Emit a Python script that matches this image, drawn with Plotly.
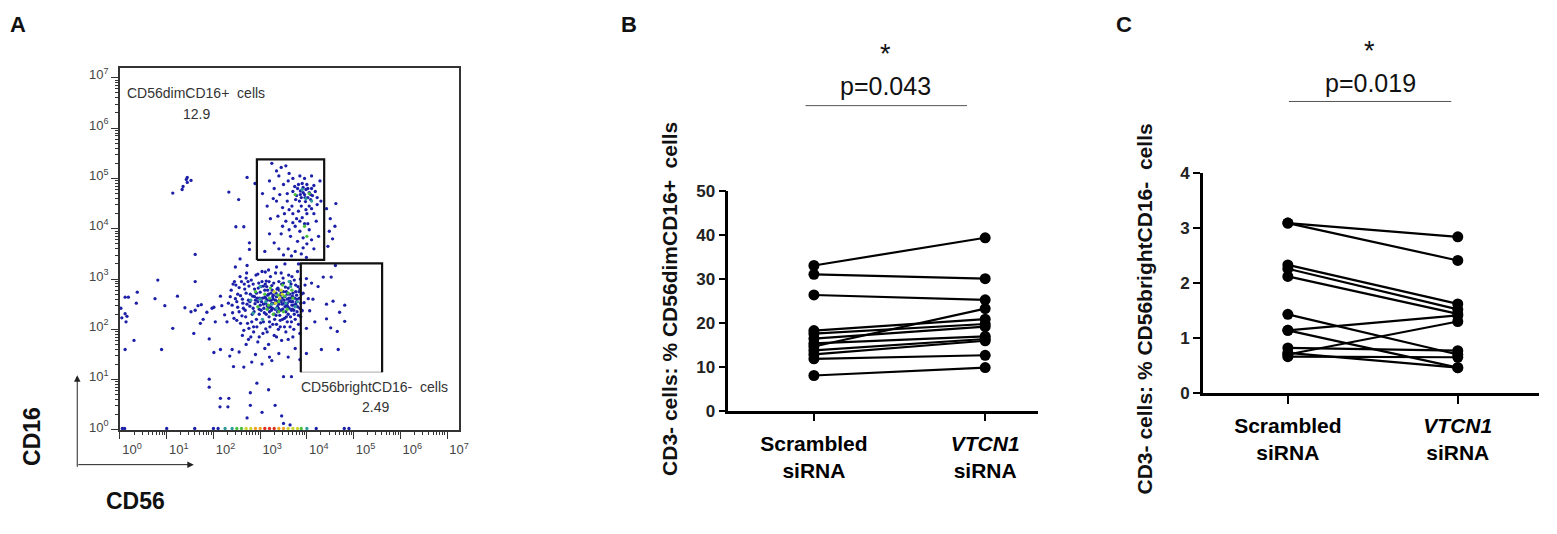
import numpy as np
import plotly.graph_objects as go

# the page adds an 8 px margin round the figure, so the figure is drawn 16 px smaller
# and every position below is given in pixels of the full 1557 x 534 picture
PAGE_W, PAGE_H, PAD = 1557, 534, 8
W, H = PAGE_W - 2 * PAD, PAGE_H - 2 * PAD

# PANEL A DATA --------------------------------------------------------------
# log10(CD56), log10(CD16) of the events

core_cells = [
    (2.32, 2.52), (2.38, 2.78), (2.41, 2.33), (2.45, 2.95), (2.47, 2.61), (2.50, 2.18), (2.52, 2.44), (2.55, 2.83),
    (2.57, 3.05), (2.58, 2.67), (2.61, 2.27), (2.63, 2.52), (2.65, 1.98), (2.66, 2.90), (2.68, 2.38), (2.70, 2.72),
    (2.71, 3.12), (2.73, 2.12), (2.75, 2.58), (2.76, 2.86), (2.78, 2.46), (2.80, 1.85), (2.81, 2.98), (2.83, 2.30),
    (2.84, 2.66), (2.86, 2.05), (2.88, 2.80), (2.89, 2.51), (2.91, 3.08), (2.92, 2.20), (2.94, 2.62), (2.95, 1.75),
    (2.97, 2.92), (2.98, 2.40), (3.00, 2.74), (3.01, 2.13), (3.03, 2.55), (3.04, 3.15), (3.06, 1.92), (3.07, 2.86),
    (3.09, 2.33), (3.10, 2.64), (3.12, 2.01), (3.13, 2.96), (3.15, 2.47), (3.16, 2.78), (3.18, 1.70), (3.19, 2.25),
    (3.21, 2.58), (3.22, 3.05), (3.24, 2.38), (3.25, 2.87), (3.27, 2.10), (3.28, 2.68), (3.30, 1.88), (3.31, 2.52),
    (3.33, 3.12), (3.34, 2.28), (3.36, 2.80), (3.37, 2.45), (3.39, 2.00), (3.40, 2.95), (3.42, 2.60), (3.43, 2.18),
    (3.45, 2.72), (3.46, 1.78), (3.48, 2.40), (3.49, 3.02), (3.51, 2.58), (3.52, 2.22), (3.54, 2.84), (3.55, 1.95),
    (3.57, 2.48), (3.58, 2.70), (3.60, 2.30), (3.61, 3.08), (3.63, 2.56), (3.64, 2.05), (3.66, 2.90), (3.67, 2.38),
    (3.69, 2.66), (3.70, 1.85), (3.72, 2.48), (3.73, 2.98), (3.75, 2.20), (3.76, 2.75), (3.78, 2.55), (3.79, 2.35),
    (3.81, 2.85), (3.82, 2.10), (3.84, 2.62), (3.85, 2.42), (3.86, 3.00), (3.87, 2.25), (3.88, 2.70),
    (3.05, 2.62), (3.12, 2.52), (3.18, 2.70), (3.22, 2.45), (3.28, 2.60), (3.32, 2.40), (3.35, 2.65), (3.40, 2.50),
    (3.44, 2.38), (3.47, 2.62), (3.50, 2.75), (3.53, 2.45), (3.58, 2.60), (3.62, 2.42), (3.66, 2.55), (3.70, 2.72),
    (3.74, 2.62), (3.08, 2.42), (3.14, 2.85), (3.20, 2.35), (3.26, 2.78), (3.30, 2.30), (3.38, 2.82), (3.42, 2.28),
    (3.46, 2.90), (3.55, 2.35), (3.60, 2.82), (3.65, 2.25), (3.72, 2.38), (3.78, 2.68), (2.95, 2.55), (2.98, 2.30),
    (3.02, 2.85), (2.88, 2.65), (2.85, 2.42), (2.92, 2.72), (3.00, 2.48), (3.15, 2.58), (3.25, 2.52), (3.36, 2.55),
    (3.52, 2.52), (3.68, 2.48), (3.80, 2.45), (3.83, 2.75), (3.10, 2.78), (3.48, 2.20), (3.58, 2.15), (3.20, 2.15),
    (3.35, 2.10), (2.78, 2.55),
    (2.36, 2.65), (2.40, 2.48), (2.44, 2.22), (2.48, 2.88), (2.52, 2.70), (2.55, 2.35), (2.58, 2.12), (2.60, 2.95),
    (2.62, 2.60), (2.64, 2.42), (2.67, 2.80), (2.69, 2.25), (2.72, 2.50), (2.74, 2.95), (2.76, 2.02), (2.79, 2.70),
    (2.82, 2.15), (2.85, 2.90), (2.87, 2.35), (2.90, 2.58), (2.93, 2.05), (2.96, 2.82), (2.99, 2.62), (3.02, 2.38),
    (3.04, 2.95), (3.07, 2.15), (3.11, 2.90), (3.13, 2.30), (3.16, 2.68), (3.19, 2.95), (3.21, 2.05), (3.23, 2.72),
    (3.26, 2.42), (3.29, 2.92), (3.31, 2.20), (3.34, 2.72), (3.37, 2.35), (3.41, 2.78), (3.43, 2.05), (3.47, 2.50),
    (3.50, 2.92), (3.53, 2.65), (3.56, 2.25), (3.59, 2.45), (3.62, 2.62), (3.64, 2.95), (3.67, 2.15), (3.70, 2.55),
    (3.73, 2.30), (3.76, 2.88), (3.79, 2.60), (3.82, 2.28), (3.85, 2.80), (3.87, 2.52), (3.89, 2.38), (3.07, 2.50),
    (3.17, 2.42), (3.27, 2.65), (3.33, 2.58), (3.39, 2.42), (3.45, 2.55), (3.56, 2.75), (3.63, 2.70), (3.69, 2.40),
    (3.76, 2.50), (3.12, 2.62), (3.23, 2.58), (3.44, 2.68), (3.58, 2.52), (3.66, 2.62), (2.62, 1.88), (2.75, 1.80),
    (2.98, 1.85), (3.15, 1.95), (3.35, 1.85), (3.52, 2.05), (3.72, 2.00), (3.85, 1.92), (2.86, 1.95), (3.60, 1.80),
    (2.70, 3.02), (2.95, 3.10), (3.18, 3.18), (3.45, 3.12), (3.68, 3.05), (3.80, 3.15), (2.50, 2.55), (2.42, 2.90),
]

dim_cells = [
    (3.80, 4.80), (3.86, 4.75), (3.92, 4.82), (3.98, 4.78), (4.05, 4.72), (4.10, 4.80), (3.95, 4.68), (4.02, 4.62),
    (3.88, 4.62), (3.78, 4.66), (4.08, 4.58), (3.70, 4.74), (3.84, 4.55), (4.12, 4.66), (3.97, 4.54), (4.18, 4.74),
    (3.74, 4.84), (4.00, 4.88), (3.90, 4.90), (4.15, 4.86), (3.25, 5.30), (3.45, 5.22), (3.55, 5.25), (3.62, 5.10),
    (3.40, 5.05), (3.20, 4.95), (3.30, 4.80), (3.50, 4.88), (3.58, 4.70), (3.35, 4.55), (3.15, 4.45), (3.48, 4.42),
    (3.62, 4.38), (3.70, 4.30), (3.82, 4.35), (3.90, 4.22), (4.00, 4.30), (4.10, 4.40), (4.22, 4.48), (4.30, 4.55),
    (3.55, 4.15), (3.75, 4.05), (3.85, 3.95), (3.95, 4.10), (4.05, 3.98), (3.65, 3.85), (3.80, 3.75), (3.92, 3.82),
    (4.00, 3.70), (3.45, 3.90), (3.30, 3.72), (3.60, 3.60), (3.75, 3.55), (3.88, 3.50), (4.15, 3.60), (4.25, 3.85),
    (3.10, 3.55), (3.50, 3.48), (4.20, 4.15), (4.28, 4.95), (4.10, 5.05), (3.85, 5.05), (3.70, 5.00), (3.22, 4.20),
    (3.05, 4.70), (3.38, 4.25), (4.42, 4.40), (4.50, 4.20), (4.48, 3.95), (4.55, 3.80), (4.60, 4.05), (4.45, 3.65),
    (4.62, 4.50), (2.33, 4.73), (2.54, 4.58), (2.72, 5.02), (2.89, 4.90), (2.65, 4.04), (2.48, 4.04), (2.77, 3.72),
    (2.77, 3.59),
    (3.82, 4.88), (3.92, 4.72), (4.02, 4.80), (3.86, 4.68), (3.96, 4.62), (4.08, 4.68), (3.76, 4.58), (3.68, 4.45),
    (3.88, 4.45), (4.05, 4.45), (3.58, 4.55), (3.42, 4.68), (3.28, 4.60), (3.52, 4.30), (3.78, 4.20), (3.98, 4.38),
    (4.15, 4.30), (3.70, 4.12), (3.62, 3.98), (3.92, 3.62), (3.40, 3.60), (4.10, 3.78), (3.95, 5.00), (3.60, 4.95),
    (3.35, 5.15), (4.22, 4.62), (4.02, 4.10), (3.85, 4.15), (3.48, 4.05), (3.20, 3.90),
]

scattered_cells = [
    (1.44, 5.02), (1.42, 4.98), (1.44, 4.92), (1.35, 4.84), (1.33, 4.78), (1.52, 4.96), (1.13, 4.71), (1.61, 3.49),
    (1.61, 2.95), (0.81, 2.98), (0.75, 2.61), (1.23, 2.66), (0.37, 2.74), (0.18, 2.64), (0.11, 2.64), (0.35, 2.52),
    (0.02, 2.42), (0.11, 2.31), (0.15, 2.26), (0.13, 2.15), (0.04, 2.23), (0.96, 2.47), (1.39, 2.43), (1.52, 2.35),
    (1.61, 2.38), (1.67, 2.47), (1.74, 2.49), (1.86, 2.34), (1.78, 2.20), (1.72, 2.12), (1.97, 2.42), (2.01, 2.44),
    (2.04, 2.15), (2.15, 2.66), (2.18, 2.47), (2.24, 2.29), (2.29, 2.15), (1.13, 2.02), (1.58, 1.92), (1.91, 1.81),
    (0.30, 1.78), (0.11, 1.60), (0.89, 1.60), (2.01, 1.54), (2.15, 1.60), (2.35, 1.47), (1.91, 0.85), (2.14, 0.46),
    (2.31, 0.46), (2.57, 3.40), (2.72, 3.27), (3.35, 3.24), (3.53, 3.30), (3.82, 3.30), (3.99, 3.43), (3.11, 3.14),
    (3.67, 3.46), (2.47, 3.24),
]

tail_cells = [
    (2.43, 1.26), (2.65, 1.25), (2.82, 1.35), (3.04, 1.31), (3.25, 1.38), (3.50, 1.06), (3.67, 1.06), (1.91, 1.01),
    (2.93, 0.93), (2.79, 0.74), (2.15, 0.63), (2.33, 0.63), (3.32, 0.49), (3.04, 0.35), (2.72, 0.24), (3.50, 0.13),
    (3.64, 0.10), (2.79, 0.49), (3.46, 0.28), (3.18, 0.80), (2.55, 1.55), (2.90, 1.50), (3.10, 1.62), (3.40, 1.52),
    (3.60, 1.45), (2.70, 1.70), (3.75, 1.62), (2.40, 1.60), (3.20, 1.45), (3.85, 1.40),
]

bright_cells = [
    (3.99, 3.01), (4.10, 2.92), (4.35, 3.04), (4.52, 3.04), (4.24, 2.85), (4.56, 2.56), (4.81, 2.48), (4.70, 2.34),
    (4.42, 2.50), (4.03, 2.61), (4.13, 2.60), (4.06, 2.37), (4.17, 2.15), (4.51, 2.03), (4.65, 1.96), (4.81, 2.16),
    (4.31, 1.60), (4.67, 1.60), (3.99, 1.52), (4.61, 3.27), (4.42, 2.21), (3.92, 2.72), (3.94, 2.53), (3.90, 2.37),
    (3.96, 2.88), (3.99, 2.02),
]

# denser events drawn in the hotter pseudo-colours: (log CD56, log CD16, density level)
hot_cells = [
    (3.10, 2.70, 2), (3.20, 2.62, 2), (3.30, 2.75, 3), (3.38, 2.68, 2), (3.45, 2.78, 3), (3.52, 2.66, 2),
    (3.60, 2.72, 2), (3.25, 2.50, 1), (3.40, 2.55, 2), (3.55, 2.52, 1), (3.15, 2.40, 2), (3.35, 2.42, 1),
    (3.70, 2.62, 2), (3.00, 2.60, 1), (2.90, 2.75, 2), (3.48, 2.88, 2), (3.65, 2.85, 1), (3.28, 2.30, 2),
    (2.95, 2.45, 2), (3.75, 2.45, 1), (3.05, 2.20, 1), (3.50, 2.35, 2), (3.42, 2.62, 3), (2.80, 2.58, 1),
    (3.62, 2.95, 1), (3.22, 2.82, 2), (3.58, 2.40, 2), (3.33, 2.52, 3), (3.12, 2.55, 1), (2.85, 2.32, 1),
    (3.68, 2.78, 2), (3.40, 2.35, 2), (3.80, 2.55, 1), (3.00, 2.85, 1), (3.47, 2.70, 3), (3.18, 2.48, 2),
    (4.05, 4.70, 2), (3.98, 4.60, 1), (3.75, 4.68, 2), (4.10, 4.55, 1), (3.95, 4.05, 2), (4.00, 3.85, 2),
    (3.90, 4.78, 1),
]

# events piled on the CD16 = 10^0 edge: (log CD56, density level)
edge_cells = [
    (0.05, 0), (0.10, 0), (1.00, 0), (1.60, 0), (2.00, 0), (2.10, 0), (2.25, 1), (2.40, 1), (2.50, 2), (2.60, 2),
    (2.70, 3), (2.80, 3), (2.90, 4), (3.00, 4), (3.10, 5), (3.20, 5), (3.30, 5), (3.40, 4), (3.50, 4), (3.60, 3),
    (3.70, 3), (3.80, 3), (3.88, 2), (4.00, 1), (4.20, 0), (4.80, 0), (4.90, 0),
]

gate_dim_cd56 = [2.93, 4.37]
gate_dim_cd16 = [3.38, 5.38]
gate_bright_cd56 = [3.87, 5.61]
gate_bright_cd16 = [1.15, 3.31]

decades = [0, 1, 2, 3, 4, 5, 6, 7]

# PANEL B / C DATA ----------------------------------------------------------
groups = ["<b>Scrambled<br>siRNA</b>", "<b><i>VTCN1</i><br>siRNA</b>"]

dim_scrambled = [33.0, 31.0, 26.3, 18.2, 17.5, 16.4, 15.3, 14.6, 13.7, 12.8, 11.8, 8.0]
dim_vtcn1 = [39.3, 30.0, 25.2, 20.8, 19.7, 19.1, 16.9, 23.2, 16.3, 15.9, 12.6, 9.8]
dim_ticks = [0, 10, 20, 30, 40, 50]

bright_scrambled = [3.09, 3.09, 2.33, 2.26, 2.12, 1.43, 1.14, 1.14, 0.82, 0.73, 0.70, 0.66]
bright_vtcn1 = [2.84, 2.41, 1.62, 1.52, 1.44, 0.70, 1.41, 0.46, 0.77, 0.46, 1.30, 0.65]
bright_ticks = [0, 1, 2, 3, 4]

level_colors = ["#1c20a8", "#2f9c9c", "#47c03c", "#cdd52c", "#f0a020", "#e0301e"]


def px(x):
    return min(1.0, max(0.0, (x - PAD) / W))


def py(y):
    return min(1.0, max(0.0, 1 - (y - PAD) / H))


fig = go.Figure()

# DOT PLOT -------------------------------------------------------------------
blue = core_cells + dim_cells + scattered_cells + tail_cells + bright_cells
fig.add_trace(go.Scatter(
    x=10 ** np.array([p[0] for p in blue]), y=10 ** np.array([p[1] for p in blue]),
    mode="markers", marker=dict(size=3.3, color=level_colors[0]),
    xaxis="x", yaxis="y", showlegend=False, hoverinfo="skip"
))
fig.add_trace(go.Scatter(
    x=10 ** np.array([p[0] for p in hot_cells]), y=10 ** np.array([p[1] for p in hot_cells]),
    mode="markers", marker=dict(size=3.3, color=[level_colors[p[2]] for p in hot_cells]),
    xaxis="x", yaxis="y", showlegend=False, hoverinfo="skip"
))
fig.add_trace(go.Scatter(
    x=10 ** np.array([p[0] for p in edge_cells]), y=[10 ** 0.03] * len(edge_cells),
    mode="markers", marker=dict(size=3.3, color=[level_colors[p[1]] for p in edge_cells]),
    xaxis="x", yaxis="y", showlegend=False, hoverinfo="skip"
))

# gates
gx0, gx1 = gate_dim_cd56
gy0, gy1 = gate_dim_cd16
fig.add_trace(go.Scatter(
    x=10 ** np.array([gx0, gx1, gx1, gx0, gx0]), y=10 ** np.array([gy0, gy0, gy1, gy1, gy0]),
    mode="lines", line=dict(color="#111111", width=2.2),
    xaxis="x", yaxis="y", showlegend=False, hoverinfo="skip"
))
bx0, bx1 = gate_bright_cd56
by0, by1 = gate_bright_cd16
fig.add_trace(go.Scatter(
    x=10 ** np.array([bx0, bx1]), y=10 ** np.array([by0, by0]),
    mode="lines", line=dict(color="#bbbbbb", width=1.2),
    xaxis="x", yaxis="y", showlegend=False, hoverinfo="skip"
))
fig.add_trace(go.Scatter(
    x=10 ** np.array([bx0, bx0, bx1, bx1]), y=10 ** np.array([by0, by1, by1, by0]),
    mode="lines", line=dict(color="#111111", width=2.2),
    xaxis="x", yaxis="y", showlegend=False, hoverinfo="skip"
))

# PAIRED PLOTS ---------------------------------------------------------------
for before, after in zip(dim_scrambled, dim_vtcn1):
    fig.add_trace(go.Scatter(
        x=[0, 1], y=[before, after], mode="lines+markers",
        line=dict(color="black", width=2.2), marker=dict(size=11, color="black"),
        xaxis="x2", yaxis="y2", showlegend=False
    ))
for before, after in zip(bright_scrambled, bright_vtcn1):
    fig.add_trace(go.Scatter(
        x=[0, 1], y=[before, after], mode="lines+markers",
        line=dict(color="black", width=2.2), marker=dict(size=11, color="black"),
        xaxis="x3", yaxis="y3", showlegend=False
    ))

# AXES -----------------------------------------------------------------------
minor_vals = [m * 10 ** k for k in decades for m in range(2, 10)]
log_axis = dict(
    type="log", showline=True, mirror=True, linecolor="#333333", linewidth=1.5,
    ticks="outside", ticklen=7, tickcolor="#333333", tickwidth=1.2,
    tickvals=[10 ** k for k in decades], ticktext=[f"10<sup>{k}</sup>" for k in decades],
    tickfont=dict(family="Arial, Liberation Sans", size=13, color="#444444"),
    minor=dict(ticks="outside", ticklen=3.5, tickcolor="#333333", tickmode="array", tickvals=minor_vals, showgrid=False),
    showgrid=False, zeroline=False
)
fig.update_layout(
    xaxis=dict(log_axis, range=[0, 7.25], domain=[px(120.7), px(461.7)], anchor="y", ticklabelshift=12),
    yaxis=dict(log_axis, range=[0, 7.2], domain=[py(436.7), py(60.7)], anchor="x", ticklabelshift=-3),
)

pair_x = dict(
    showline=True, linecolor="black", linewidth=2.5, ticks="outside", ticklen=8, tickwidth=2,
    tickcolor="black", tickvals=[0, 1], ticktext=groups, showgrid=False, zeroline=False,
    tickfont=dict(family="Arial, Liberation Sans", size=21, color="black"), ticklabelstandoff=4
)
pair_y = dict(
    showline=True, linecolor="black", linewidth=2.5, ticks="outside", ticklen=7, tickwidth=2,
    tickcolor="black", showgrid=False, zeroline=False,
    tickfont=dict(family="Arial, Liberation Sans", size=17, color="#222222")
)
fig.update_layout(
    xaxis2=dict(pair_x, range=[-0.5, 1.31], domain=[px(733), px(1045)], anchor="y2"),
    yaxis2=dict(pair_y, range=[0, 50], tickvals=dim_ticks, ticktext=[f"<b>{t}</b>" for t in dim_ticks],
                domain=[py(416.7), py(188.3)], anchor="x2"),
    xaxis3=dict(pair_x, range=[-0.5, 1.478], domain=[px(1210.7), px(1549)], anchor="y3"),
    yaxis3=dict(pair_y, range=[0, 4], tickvals=bright_ticks, ticktext=[f"<b>{t}</b>" for t in bright_ticks],
                domain=[py(398.3), py(170)], anchor="x3"),
)

# TEXT -----------------------------------------------------------------------
font_main = "Arial, Liberation Sans"
annotations = [
    dict(x=px(8), y=py(16), text="<b>A</b>", font=dict(size=22), xanchor="left"),
    dict(x=px(633), y=py(16), text="<b>B</b>", font=dict(size=22)),
    dict(x=px(1131), y=py(16), text="<b>C</b>", font=dict(size=22)),
    dict(x=px(197), y=py(87), text="CD56dimCD16+  cells", font=dict(size=14, color="#333333")),
    dict(x=px(198), y=py(109), text="12.9", font=dict(size=14, color="#333333")),
    dict(x=px(377), y=py(392), text="CD56brightCD16-  cells", font=dict(size=14, color="#333333")),
    dict(x=px(378), y=py(413), text="2.49", font=dict(size=14, color="#333333")),
    dict(x=px(32), y=py(443), text="<b>CD16</b>", textangle=-90, font=dict(size=23)),
    dict(x=px(136), y=py(510), text="<b>CD56</b>", font=dict(size=23)),
    dict(x=px(674), y=py(301), text="<b>CD3- cells: % CD56dimCD16+  cells</b>", textangle=-90, font=dict(size=21)),
    dict(x=px(1152), y=py(311), text="<b>CD3- cells: % CD56brightCD16-  cells</b>", textangle=-90, font=dict(size=21)),
    dict(x=px(891), y=py(46), text="*", font=dict(size=27)),
    dict(x=px(891), y=py(80), text="p=0.043", font=dict(size=25)),
    dict(x=px(1378), y=py(43), text="*", font=dict(size=27)),
    dict(x=px(1379), y=py(76), text="p=0.019", font=dict(size=25)),
]
for a in annotations:
    a.setdefault("xanchor", "center")
    a.update(xref="paper", yref="paper", showarrow=False, yanchor="middle")
    a["font"] = dict(family=font_main, color=a["font"].get("color", "#111111"), size=a["font"]["size"])

# axis arrows of the dot plot
annotations += [
    dict(x=px(77.7), y=py(380), ax=0, ay=93, xref="paper", yref="paper", axref="pixel", ayref="pixel",
         text="", showarrow=True, arrowhead=2, arrowsize=1.3, arrowwidth=1, arrowcolor="#222222"),
    dict(x=px(195), y=py(472.7), ax=-117, ay=0, xref="paper", yref="paper", axref="pixel", ayref="pixel",
         text="", showarrow=True, arrowhead=2, arrowsize=1.3, arrowwidth=1, arrowcolor="#222222"),
]

shapes = [
    dict(type="line", xref="paper", yref="paper", x0=px(810.7), x1=px(973.3), y0=py(100), y1=py(100),
         line=dict(color="#555555", width=1)),
    dict(type="line", xref="paper", yref="paper", x0=px(1297.3), x1=px(1460.7), y0=py(95.7), y1=py(95.7),
         line=dict(color="#555555", width=1)),
]

fig.update_layout(
    width=W, height=H, margin=dict(l=0, r=0, t=0, b=0),
    plot_bgcolor="white", paper_bgcolor="white",
    annotations=annotations, shapes=shapes, showlegend=False,
    font=dict(family=font_main)
)

fig.write_html("out.html")
